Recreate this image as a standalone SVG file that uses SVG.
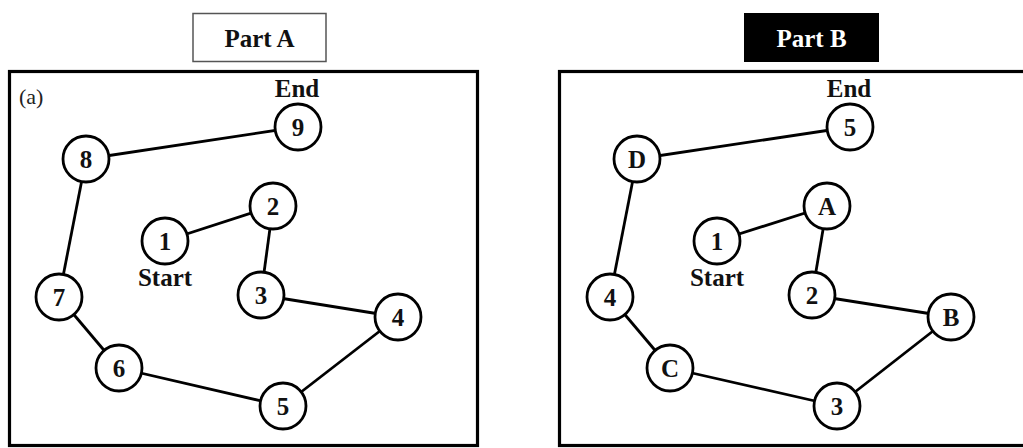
<svg xmlns="http://www.w3.org/2000/svg" width="1023" height="448" viewBox="0 0 1023 448">
  <style>
    .frame { fill: none; stroke: #000; stroke-width: 3.2; }
    .node circle { fill: #fff; stroke: #000; stroke-width: 2.8; }
    .node text { font-family: "Liberation Serif", "Times New Roman", serif; font-weight: bold; font-size: 25px; text-anchor: middle; fill: #111; }
    .lbl { font-family: "Liberation Serif", "Times New Roman", serif; font-weight: bold; font-size: 25px; text-anchor: middle; fill: #111; }
    .edges line { stroke: #000; stroke-width: 2.8; }
    .title { font-family: "Liberation Serif", "Times New Roman", serif; font-weight: bold; font-size: 25px; text-anchor: middle; }
  </style>
  <rect width="1023" height="448" fill="#fff"/>

  <!-- Part A panel -->
  <g id="partA-title">
    <rect x="193" y="13.5" width="133" height="48" fill="#fff" stroke="#555" stroke-width="1.5"/>
    <text class="title" x="259.5" y="47" fill="#111">Part A</text>
  </g>
  <rect class="frame" x="9.5" y="71.5" width="468" height="374"/>
  <text x="19" y="104" font-family="Liberation Serif, serif" font-size="22" fill="#222">(a)</text>
  <text class="lbl" x="297" y="97">End</text>
  <text class="lbl" x="165" y="286">Start</text>

  <g id="edgesA" class="edges">
    <line x1="298" y1="127" x2="86" y2="159"/>
    <line x1="86" y1="159" x2="59" y2="297"/>
    <line x1="59" y1="297" x2="119" y2="368"/>
    <line x1="119" y1="368" x2="283" y2="406"/>
    <line x1="283" y1="406" x2="398" y2="317"/>
    <line x1="398" y1="317" x2="261" y2="295"/>
    <line x1="261" y1="295" x2="273" y2="206"/>
    <line x1="273" y1="206" x2="165" y2="241"/>
  </g>

  <g id="a1" class="node"><circle cx="165" cy="241" r="23"/><text x="165" y="250">1</text></g>
  <g id="a2" class="node"><circle cx="273" cy="206" r="23"/><text x="273" y="215">2</text></g>
  <g id="a3" class="node"><circle cx="261" cy="295" r="23"/><text x="261" y="304">3</text></g>
  <g id="a4" class="node"><circle cx="398" cy="317" r="23"/><text x="398" y="326">4</text></g>
  <g id="a5" class="node"><circle cx="283" cy="406" r="23"/><text x="283" y="415">5</text></g>
  <g id="a6" class="node"><circle cx="119" cy="368" r="23"/><text x="119" y="377">6</text></g>
  <g id="a7" class="node"><circle cx="59" cy="297" r="23"/><text x="59" y="306">7</text></g>
  <g id="a8" class="node"><circle cx="86" cy="159" r="23"/><text x="86" y="168">8</text></g>
  <g id="a9" class="node"><circle cx="298" cy="127" r="23"/><text x="298" y="136">9</text></g>

  <!-- Part B panel -->
  <g id="partB-title">
    <rect x="744" y="13" width="135" height="49" fill="#000"/>
    <text class="title" x="811.5" y="47" fill="#fff">Part B</text>
  </g>
  <rect class="frame" x="559.5" y="71.5" width="470" height="374"/>
  <text class="lbl" x="849" y="97">End</text>
  <text class="lbl" x="717" y="286">Start</text>

  <g id="edgesB" class="edges">
    <line x1="850" y1="127" x2="637" y2="159"/>
    <line x1="637" y1="159" x2="610" y2="297"/>
    <line x1="610" y1="297" x2="670" y2="368"/>
    <line x1="670" y1="368" x2="837" y2="406"/>
    <line x1="837" y1="406" x2="951" y2="317"/>
    <line x1="951" y1="317" x2="812" y2="295"/>
    <line x1="812" y1="295" x2="827" y2="206"/>
    <line x1="827" y1="206" x2="717" y2="241"/>
  </g>

  <g id="b1" class="node"><circle cx="717" cy="241" r="23"/><text x="717" y="250">1</text></g>
  <g id="bA" class="node"><circle cx="827" cy="206" r="23"/><text x="827" y="215">A</text></g>
  <g id="b2" class="node"><circle cx="812" cy="295" r="23"/><text x="812" y="304">2</text></g>
  <g id="bB" class="node"><circle cx="951" cy="317" r="23"/><text x="951" y="326">B</text></g>
  <g id="b3" class="node"><circle cx="837" cy="406" r="23"/><text x="837" y="415">3</text></g>
  <g id="bC" class="node"><circle cx="670" cy="368" r="23"/><text x="670" y="377">C</text></g>
  <g id="b4" class="node"><circle cx="610" cy="297" r="23"/><text x="610" y="306">4</text></g>
  <g id="bD" class="node"><circle cx="637" cy="159" r="23"/><text x="637" y="168">D</text></g>
  <g id="b5" class="node"><circle cx="850" cy="127" r="23"/><text x="850" y="136">5</text></g>
</svg>
